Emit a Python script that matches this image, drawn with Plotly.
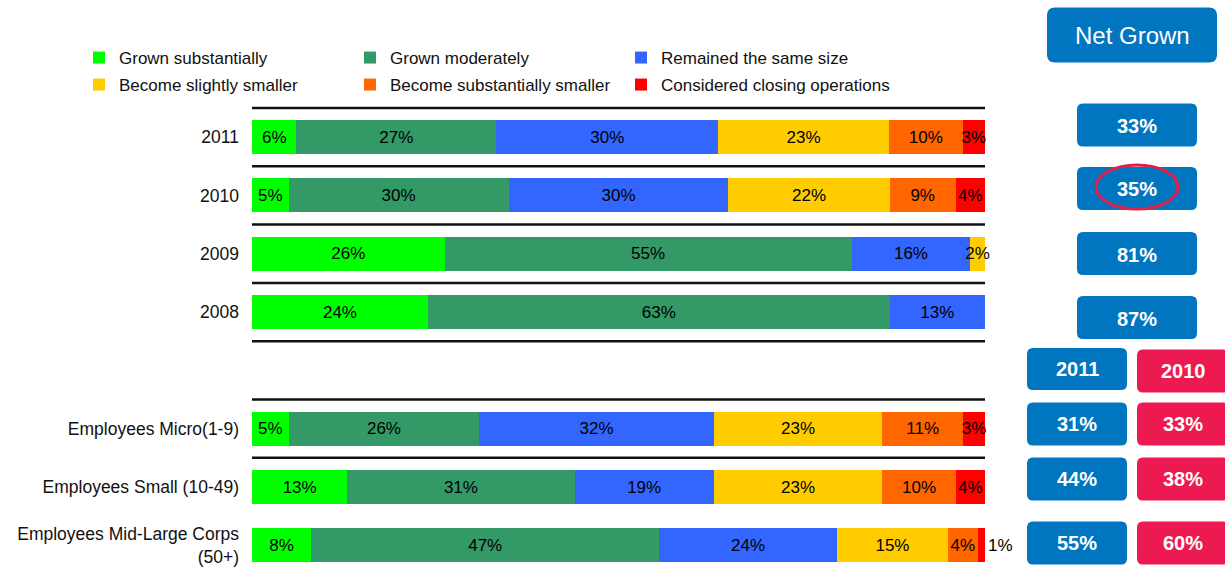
import plotly.graph_objects as go

# ---------------- data ----------------
categories = ["2011", "2010", "2009", "2008", " ",
              "Employees Micro(1-9)", "Employees Small (10-49)",
              "Employees Mid-Large Corps<br>(50+)"]
bar_rows = ["2011", "2010", "2009", "2008",
            "Employees Micro(1-9)", "Employees Small (10-49)",
            "Employees Mid-Large Corps<br>(50+)"]

series_names = ["Grown substantially", "Grown moderately", "Remained the same size",
                "Become slightly smaller", "Become substantially smaller",
                "Considered closing operations"]
grown_substantially = [6, 5, 26, 24, 5, 13, 8]
grown_moderately = [27, 30, 55, 63, 26, 31, 47]
remained_same = [30, 30, 16, 13, 32, 19, 24]
slightly_smaller = [23, 22, 2, None, 23, 23, 15]
substantially_smaller = [10, 9, None, None, 11, 10, 4]
closing_operations = [3, 4, None, None, 3, 4, 1]

net_header = "Net Grown"
net_years = ["2011", "2010", "2009", "2008"]
net_grown = [33, 35, 81, 87]
size_years = ["2011", "2010"]
net_2011_by_size = [31, 44, 55]
net_2010_by_size = [33, 38, 60]

# ---------------- style ----------------
FONT = "Liberation Sans, Arial, sans-serif"
colors = ["#00FF00", "#339966", "#3366FF", "#FFCC00", "#FF6600", "#FF0000"]
BLUE = "#0076C0"
PINK = "#EC1A50"
W, H = 1225, 571
ML, MR, MT, MB = 252, 240, 105, 0
PW, PH = W - ML - MR, H - MT - MB

all_series = [grown_substantially, grown_moderately, remained_same,
              slightly_smaller, substantially_smaller, closing_operations]

fig = go.Figure()
for i, (name, vals) in enumerate(zip(series_names, all_series)):
    # the tiny last segment of the final row sits just outside the bar end
    if i == len(all_series) - 1:
        tpos = ["inside"] * (len(vals) - 1) + ["outside"]
    else:
        tpos = "inside"
    fig.add_trace(go.Bar(
        name=name, y=bar_rows, x=vals, orientation="h",
        marker=dict(color=colors[i], line=dict(width=0)),
        text=[f"{v}%" if v is not None else "" for v in vals],
        textposition=tpos, insidetextanchor="middle", textangle=0,
        constraintext="none", cliponaxis=False,
        textfont=dict(family=FONT, size=17, color="#000000"),
        outsidetextfont=dict(family=FONT, size=17, color="#000000"),
        width=0.58,
        legend="legend" if i < 3 else "legend2",
        hovertemplate="%{y}: %{text}<extra>" + name + "</extra>",
    ))

# separator lines between rows
for k in range(len(categories) - 1):
    fig.add_shape(type="line", xref="x", yref="y", x0=0, x1=100,
                  y0=k - 0.5, y1=k - 0.5,
                  line=dict(color="#111111", width=2.5), layer="above")


def px2x(px):
    return (px - ML) / PW


def py2y(py):
    return (H - MB - py) / PH


def rounded_box(cx, cy, w, h, color, r=6):
    a, b = w / 2, h / 2
    path = (f"M{-a + r},{-b} L{a - r},{-b} Q{a},{-b} {a},{-b + r} "
            f"L{a},{b - r} Q{a},{b} {a - r},{b} L{-a + r},{b} "
            f"Q{-a},{b} {-a},{b - r} L{-a},{-b + r} Q{-a},{-b} {-a + r},{-b} Z")
    fig.add_shape(type="path", xref="paper", yref="paper",
                  xsizemode="pixel", ysizemode="pixel",
                  xanchor=px2x(cx), yanchor=py2y(cy), path=path,
                  fillcolor=color, line=dict(width=0), layer="above")


def box_text(cx, cy, txt, size=20, bold=True):
    fig.add_annotation(xref="paper", yref="paper", x=px2x(cx), y=py2y(cy),
                       text=f"<b>{txt}</b>" if bold else txt, showarrow=False,
                       xanchor="center", yanchor="middle",
                       font=dict(family=FONT, size=size, color="white"))


# Net Grown header
rounded_box(1132, 35, 170, 55, BLUE, r=8)
box_text(1132, 35, net_header, size=24, bold=False)

# yearly net grown boxes
year_box_y = [125, 188.5, 253.5, 317.5]
for yv, val in zip(year_box_y, net_grown):
    rounded_box(1137, yv, 120, 43, BLUE)
    box_text(1137, yv + 1, f"{val}%")

# highlight ellipse around 2010
fig.add_shape(type="circle", xref="paper", yref="paper",
              xsizemode="pixel", ysizemode="pixel",
              xanchor=px2x(1137), yanchor=py2y(187),
              x0=-41, x1=41, y0=-22, y1=22,
              line=dict(color="#E0204E", width=3), layer="above")

# by company size
size_box_y = [369, 424, 479, 543]
rounded_box(1077, size_box_y[0], 100, 42, BLUE)
box_text(1077, size_box_y[0], size_years[0])
rounded_box(1183, size_box_y[0] + 2, 92, 43, PINK)
box_text(1183, size_box_y[0] + 2, size_years[1])
for yv, v11, v10 in zip(size_box_y[1:], net_2011_by_size, net_2010_by_size):
    rounded_box(1077, yv, 100, 43, BLUE)
    box_text(1077, yv, f"{v11}%")
    rounded_box(1183, yv, 92, 43, PINK)
    box_text(1183, yv, f"{v10}%")

legend_common = dict(orientation="h", xref="paper", yref="paper",
                     xanchor="left", yanchor="middle",
                     entrywidth=226, entrywidthmode="pixels",
                     font=dict(family=FONT, size=17, color="#111111"),
                     bgcolor="rgba(0,0,0,0)", traceorder="normal")

fig.update_layout(
    width=W, height=H,
    margin=dict(l=ML, r=MR, t=MT, b=MB, autoexpand=False),
    paper_bgcolor="white", plot_bgcolor="white",
    barmode="stack", barnorm="percent",
    font=dict(family=FONT, size=17, color="#111111"),
    xaxis=dict(visible=False, range=[0, 100], fixedrange=True),
    yaxis=dict(type="category", categoryorder="array", categoryarray=categories,
               range=[7.44, -0.55], showgrid=False, zeroline=False,
               showline=False, ticks="", ticklabelstandoff=12,
               tickfont=dict(family=FONT, size=17.5, color="#111111"),
               fixedrange=True),
    legend=dict(x=px2x(79), y=py2y(58), **legend_common),
    legend2=dict(x=px2x(79), y=py2y(85), **legend_common),
    showlegend=True,
)

fig.write_html("out.html")
